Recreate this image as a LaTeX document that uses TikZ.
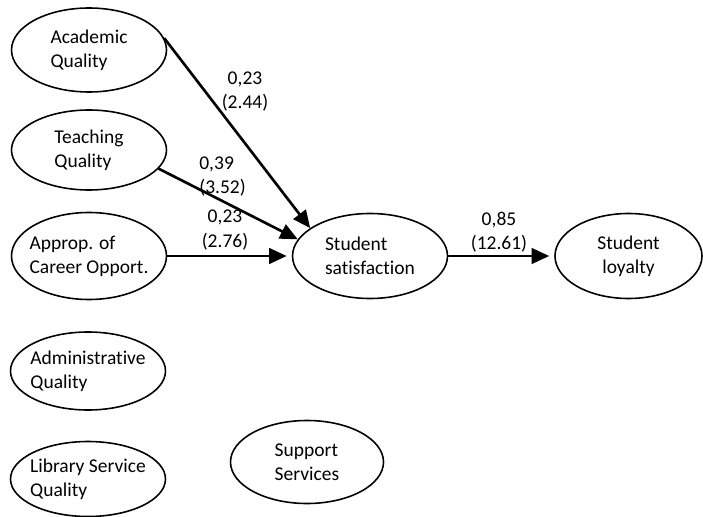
\documentclass[tikz,border=0pt]{standalone}
\usepackage{fontspec}
\setmainfont{Carlito}[Ligatures={NoCommon}]
\usepackage{tikz}
\usetikzlibrary{arrows.meta, positioning, shapes.geometric}

\begin{document}
\begin{tikzpicture}[
    font=\fontsize{11.1}{13.7}\selectfont,
    latent/.style={draw=black, line width=0.9pt, ellipse, minimum width=3.1cm,
        minimum height=1.7cm, inner xsep=-0.25cm, inner ysep=0pt, align=left},
    coef/.style={inner sep=0pt, align=center},
    arrow/.style={-{Triangle[length=0.35cm, width=0.31cm]}, line width=1.5pt, draw=black}
]
\useasboundingbox (0,0) rectangle (14.06,-10.34);

% Exogenous constructs (left)
\node[latent, minimum height=1.68cm] (acad) at (1.78,-1.0) {Academic\\Quality};
\node[latent, minimum height=1.6cm] (teach) at (1.78,-3.0) {Teaching\\Quality};
\node[latent, minimum height=1.74cm] (career) at (1.78,-5.12) {Approp. of\\Career Opport.};
\node[latent, minimum height=1.56cm] (admin) at (1.76,-7.42) {Administrative\\Quality};
\node[latent, minimum height=1.5cm] (lib) at (1.76,-9.58) {Library Service\\Quality};
\node[latent, minimum width=3.06cm, minimum height=1.66cm] (support) at (6.14,-9.24) {Support\\Services};

% Endogenous constructs
\node[latent] (satis) at (7.4,-5.12) {Student\\satisfaction};
\node[latent, minimum width=2.94cm, align=center] (loyal) at (12.57,-5.12) {Student\\loyalty};

% Path coefficients (t-values)
\node[coef] (cAcad) at (4.9,-1.83) {0,23\\(2.44)};
\node[coef, align=left, anchor=west] (cTeach) at (3.98,-3.53) {0,39\\(3.52)};
\node[coef] (cCareer) at (4.5,-4.6) {0,23\\(2.76)};
\node[coef] (cSatis) at (9.98,-4.64) {0,85\\(12.61)};

% Structural paths
\draw[arrow] (acad.9) -- (satis.155);
\draw[arrow] (teach.-15) -- (satis.167);
\draw[arrow, shorten >=0.1cm] (career.east) -- (satis.west);
\draw[arrow, shorten >=0.1cm] (satis.east) -- (loyal.west);

\end{tikzpicture}
\end{document}
